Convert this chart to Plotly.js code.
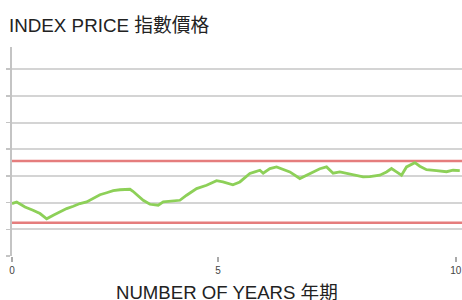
<!DOCTYPE html>
<html>
<head>
<meta charset="utf-8">
<script src="https://cdn.plot.ly/plotly-3.0.1.min.js"></script>
<style>html,body{margin:0;padding:0;background:#fff}#chart{width:462px;height:300px}</style>
</head>
<body>
<div id="chart"></div>
<script>
// Years along the horizon
const years = [0,0.106,0.293,0.405,0.473,0.631,0.782,0.930,1.081,1.232,1.381,1.532,1.682,1.831,1.982,2.133,2.282,2.432,2.658,2.725,2.957,3.108,3.295,3.408,3.597,3.784,3.935,4.160,4.385,4.610,4.752,4.910,4.977,5.135,5.360,5.473,5.586,5.660,5.811,5.962,6.074,6.261,6.486,6.637,6.786,6.937,7.088,7.236,7.387,7.538,7.687,7.912,8.063,8.288,8.439,8.551,8.664,8.777,8.890,9.077,9.189,9.340,9.565,9.791,9.939,10.090];
// Index price path
const indexPrice = [1.965,2.025,1.837,1.777,1.714,1.590,1.395,1.526,1.650,1.777,1.864,1.965,2.025,2.152,2.295,2.370,2.445,2.482,2.501,2.426,2.088,1.938,1.901,2.025,2.070,2.088,2.276,2.527,2.651,2.820,2.775,2.715,2.670,2.775,3.090,3.150,3.213,3.101,3.277,3.337,3.277,3.150,2.902,3.026,3.150,3.270,3.337,3.101,3.150,3.090,3.026,2.962,2.970,3.026,3.150,3.277,3.150,3.026,3.337,3.495,3.363,3.232,3.195,3.157,3.213,3.195];
// Barrier levels
const upperBarrier = 3.56;
const lowerBarrier = 1.25;
const xSpan = [0, 10.14];
const ySpan = [0, 7.83];
const xTickVals = [0, 4.64, 10];
const xTickText = ['0', '5', '10'];
const yTickVals = [0, 1, 2, 3, 4, 5, 6, 7];

const traces = [
  {x: xSpan, y: [upperBarrier, upperBarrier], mode: 'lines', line: {color: 'rgb(229,125,125)', width: 2.5}, hoverinfo: 'skip'},
  {x: xSpan, y: [lowerBarrier, lowerBarrier], mode: 'lines', line: {color: 'rgb(229,125,125)', width: 2.5}, hoverinfo: 'skip'},
  {x: years, y: indexPrice, mode: 'lines', line: {color: 'rgb(141,208,88)', width: 2.8}}
];

const layout = {
  width: 462, height: 300,
  margin: {l: 12, r: 0, t: 47, b: 44, pad: 0},
  paper_bgcolor: '#fff', plot_bgcolor: '#fff',
  showlegend: false,
  font: {family: 'Liberation Sans, Arial, "Noto Sans CJK TC", sans-serif', color: '#222'},
  title: {text: 'INDEX PRICE 指數價格', x: 9/462, xanchor: 'left', xref: 'container', y: 1 - 25/300, yref: 'container', yanchor: 'middle',
          font: {size: 18.8, color: '#222', family: 'Liberation Sans, Arial, "Noto Sans CJK TC", sans-serif'}},
  xaxis: {range: xSpan, tickvals: xTickVals, ticktext: xTickText, showgrid: false, zeroline: false,
          showline: false, ticks: 'outside', ticklen: 5, tickcolor: '#aaa', tickwidth: 1.5,
          tickfont: {size: 10, color: '#444'}, fixedrange: true},
  yaxis: {range: ySpan, tickvals: yTickVals, showticklabels: false, showgrid: true, gridcolor: '#d4d4d4', gridwidth: 2,
          zeroline: false, showline: true, linecolor: '#c4c4c4', linewidth: 2, ticks: 'outside', ticklen: 4,
          tickcolor: '#c4c4c4', tickwidth: 1.5, fixedrange: true},
  annotations: [{text: 'NUMBER OF YEARS 年期', xref: 'paper', yref: 'paper', x: (226.5-12)/450, xanchor: 'center',
                 y: -(292-256)/209, yanchor: 'middle', showarrow: false,
                 font: {size: 18.6, color: '#222', family: 'Liberation Sans, Arial, "Noto Sans CJK TC", sans-serif'}}]
};

Plotly.newPlot('chart', traces, layout, {staticPlot: true, displayModeBar: false});
</script>
</body>
</html>
